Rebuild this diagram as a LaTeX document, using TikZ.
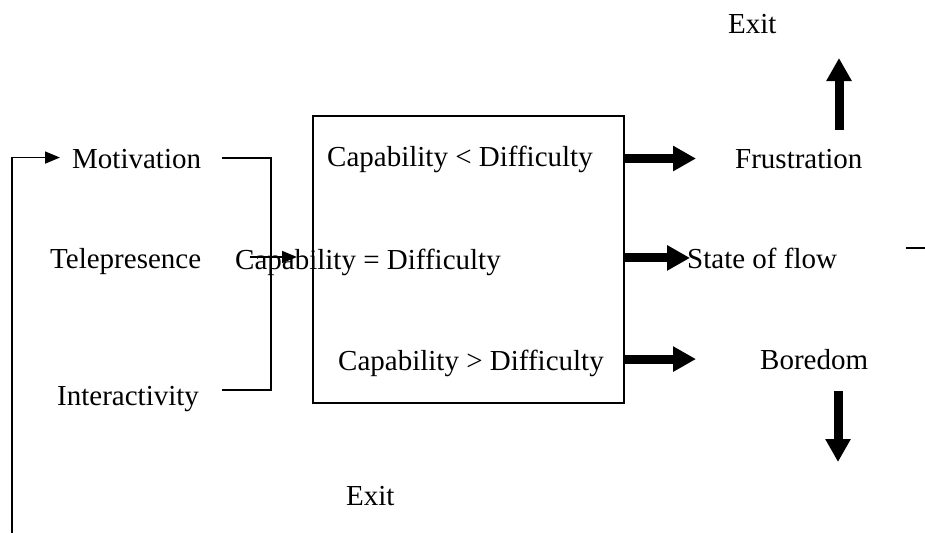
\documentclass[tikz,border=0pt]{standalone}
\usepackage{fontspec}
\setmainfont{Liberation Serif}
\usetikzlibrary{arrows.meta}
\tikzset{
	txt/.style={anchor=base west, inner sep=0pt, font=\fontsize{29}{34}\selectfont},
	thin/.style={line width=1.6pt},
	thinarrow/.style={line width=1.6pt, -{Triangle[width=12pt,length=15pt]}},
	fatarrow/.style={line width=9pt, -{Triangle[width=24pt,length=23pt]}}
}
\begin{document}
\begin{tikzpicture}[x=1pt, y=-1pt]
	\useasboundingbox (0,0) rectangle (925,533);

	% left column
	\node[txt] (mot) at (72,168) {Motivation};
	\node[txt] (tel) at (50,268) {Telepresence};
	\node[txt] (int) at (57,405) {Interactivity};

	% box and its rows
	\node[draw, thin, minimum width=311pt, minimum height=287pt, inner sep=0pt] (box) at (468.5,259.5) {};
	\node[txt] (less) at (327,166) {Capability < Difficulty};
	\node[txt] (equal) at (235,269) {Capability = Difficulty};
	\node[txt] (more) at (338,370) {Capability > Difficulty};

	% right column
	\node[txt] (frus) at (735,168) {Frustration};
	\node[txt] (flow) at (687,268) {State of flow};
	\node[txt] (bore) at (760,369) {Boredom};
	\node[txt] (exit1) at (728,33) {Exit};
	\node[txt] (exit2) at (346,505) {Exit};

	\coordinate (b1) at (222,158);
	\coordinate (b2) at (271,390);
	\coordinate (b3) at (222,390);
	\coordinate (m1) at (250,257);
	\coordinate (m2) at (297,257);
	\coordinate (up1) at (839,130);
	\coordinate (up2) at (839,58);
	\coordinate (dn1) at (838,391);
	\coordinate (dn2) at (838,462);
	\coordinate (loop) at (12,533);
	\coordinate (s1) at (906,248);
	\coordinate (s2) at (925,248);

	% bracket and inputs
	\draw[thin] (b1) -| (b2) -- (b3);
	\draw[thinarrow] (m1) -- (m2);
	\draw[thinarrow] (loop) |- ([xshift=-12pt,yshift=1pt]mot.west);

	% outputs
	\foreach \n / \d in {
	frus/-39pt,
	flow/3pt,
	bore/-64pt}
	{
		\draw[fatarrow] (box.east |- \n.west) -- ([xshift=\d]\n.west);
	};
	\draw[fatarrow] (up1) -- (up2);
	\draw[fatarrow] (dn1) -- (dn2);
	\draw[thin] (s1) -- (s2);
\end{tikzpicture}
\end{document}
